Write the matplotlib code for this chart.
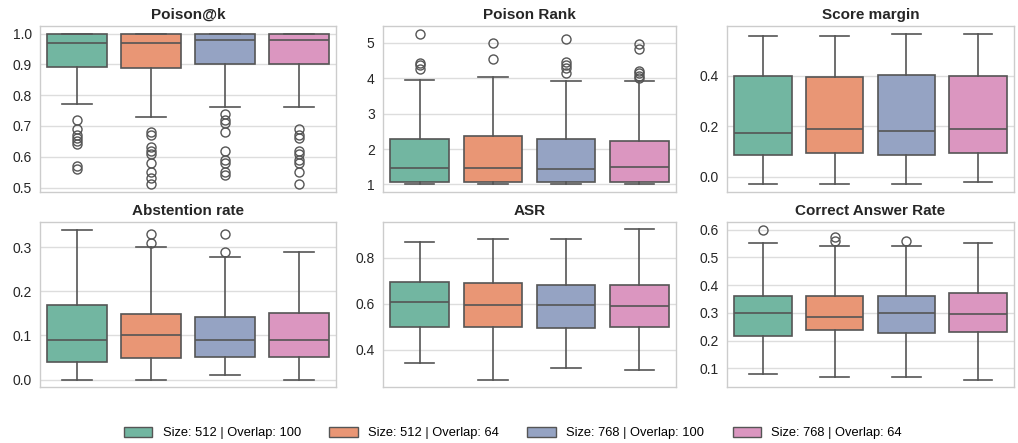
import colorsys
import matplotlib
matplotlib.use("Agg")
import matplotlib.pyplot as plt
import matplotlib.colors as mcolors
from matplotlib.patches import Patch

plt.rcParams['font.family'] = ['Liberation Sans', 'DejaVu Sans']

groups = ["Size: 512 | Overlap: 100", "Size: 512 | Overlap: 64",
          "Size: 768 | Overlap: 100", "Size: 768 | Overlap: 64"]
base_colors = ["#66c2a5", "#fc8d62", "#8da0cb", "#e78ac3"]

titles = ["Poison@k", "Poison Rank", "Score margin",
          "Abstention rate", "ASR", "Correct Answer Rate"]

# per metric: lists over the 4 groups
poisonk_whislo = [0.77, 0.73, 0.76, 0.76]
poisonk_q1 = [0.89, 0.888, 0.90, 0.90]
poisonk_med = [0.97, 0.97, 0.98, 0.98]
poisonk_q3 = [1.0, 1.0, 1.0, 1.0]
poisonk_whishi = [1.0, 1.0, 1.0, 1.0]
poisonk_fliers = [[0.72, 0.69, 0.67, 0.66, 0.65, 0.64, 0.57, 0.56],
                  [0.68, 0.67, 0.63, 0.62, 0.61, 0.58, 0.55, 0.53, 0.51],
                  [0.74, 0.72, 0.71, 0.68, 0.62, 0.59, 0.58, 0.55, 0.54],
                  [0.69, 0.67, 0.66, 0.62, 0.61, 0.59, 0.58, 0.55, 0.51]]
poisonk_ticks = [0.5, 0.6, 0.7, 0.8, 0.9, 1.0]

rank_whislo = [1.0, 1.0, 1.0, 1.0]
rank_q1 = [1.08, 1.08, 1.08, 1.08]
rank_med = [1.46, 1.46, 1.43, 1.48]
rank_q3 = [2.27, 2.36, 2.27, 2.23]
rank_whishi = [3.96, 4.02, 3.92, 3.92]
rank_fliers = [[5.26, 4.43, 4.37, 4.25],
               [4.98, 4.55],
               [5.12, 4.45, 4.36, 4.28, 4.15],
               [4.97, 4.82, 4.20, 4.15, 4.07, 4.0]]
rank_ticks = [1, 2, 3, 4, 5]

margin_whislo = [-0.031, -0.028, -0.028, -0.021]
margin_q1 = [0.087, 0.094, 0.085, 0.094]
margin_med = [0.174, 0.187, 0.181, 0.19]
margin_q3 = [0.40, 0.396, 0.404, 0.40]
margin_whishi = [0.558, 0.558, 0.567, 0.567]
margin_fliers = [[], [], [], []]
margin_ticks = [0.0, 0.2, 0.4]

abst_whislo = [0.0, 0.0, 0.01, 0.0]
abst_q1 = [0.04, 0.048, 0.05, 0.05]
abst_med = [0.089, 0.10, 0.089, 0.09]
abst_q3 = [0.169, 0.148, 0.141, 0.15]
abst_whishi = [0.34, 0.30, 0.278, 0.289]
abst_fliers = [[], [0.33, 0.31], [0.33, 0.288], []]
abst_ticks = [0.0, 0.1, 0.2, 0.3]

asr_whislo = [0.34, 0.27, 0.32, 0.31]
asr_q1 = [0.50, 0.50, 0.493, 0.50]
asr_med = [0.607, 0.596, 0.596, 0.591]
asr_q3 = [0.695, 0.69, 0.682, 0.682]
asr_whishi = [0.87, 0.883, 0.883, 0.924]
asr_fliers = [[], [], [], []]
asr_ticks = [0.4, 0.6, 0.8]

car_whislo = [0.08, 0.07, 0.07, 0.06]
car_q1 = [0.218, 0.24, 0.227, 0.23]
car_med = [0.30, 0.285, 0.30, 0.295]
car_q3 = [0.36, 0.36, 0.36, 0.37]
car_whishi = [0.55, 0.54, 0.54, 0.55]
car_fliers = [[0.60], [0.572, 0.56], [0.56], []]
car_ticks = [0.1, 0.2, 0.3, 0.4, 0.5, 0.6]

metrics = [
    (poisonk_whislo, poisonk_q1, poisonk_med, poisonk_q3, poisonk_whishi, poisonk_fliers, poisonk_ticks),
    (rank_whislo, rank_q1, rank_med, rank_q3, rank_whishi, rank_fliers, rank_ticks),
    (margin_whislo, margin_q1, margin_med, margin_q3, margin_whishi, margin_fliers, margin_ticks),
    (abst_whislo, abst_q1, abst_med, abst_q3, abst_whishi, abst_fliers, abst_ticks),
    (asr_whislo, asr_q1, asr_med, asr_q3, asr_whishi, asr_fliers, asr_ticks),
    (car_whislo, car_q1, car_med, car_q3, car_whishi, car_fliers, car_ticks),
]


def desat(c, prop=0.75):
    r, g, b = mcolors.to_rgb(c)
    h, l, s = colorsys.rgb_to_hls(r, g, b)
    return colorsys.hls_to_rgb(h, l, s * prop)


colors = [desat(c) for c in base_colors]
line_col = "#555555"
grid_col = "#dddddd"
spine_col = "#cccccc"

fig = plt.figure(figsize=(10.18, 4.43), dpi=100)
W, H = 1018, 443
col_x = [(40, 336), (383, 676), (727, 1014)]
row_y = [(26, 192), (222, 387)]

for i, (title, m) in enumerate(zip(titles, metrics)):
    r, c = divmod(i, 3)
    x0, x1 = col_x[c]
    y0, y1 = row_y[r]
    ax = fig.add_axes([x0 / W, 1 - y1 / H, (x1 - x0) / W, (y1 - y0) / H])
    whislo, q1, med, q3, whishi, fliers, ticks = m
    stats = []
    for k in range(4):
        stats.append(dict(whislo=whislo[k], q1=q1[k], med=med[k], q3=q3[k],
                          whishi=whishi[k], fliers=fliers[k], label=""))
    bp = ax.bxp(stats, positions=range(4), widths=0.8, capwidths=0.4,
                patch_artist=True, showfliers=True,
                boxprops=dict(edgecolor=line_col, linewidth=1.2),
                medianprops=dict(color=line_col, linewidth=1.2),
                whiskerprops=dict(color=line_col, linewidth=1.2),
                capprops=dict(color=line_col, linewidth=1.2),
                flierprops=dict(marker='o', markerfacecolor='none',
                                markeredgecolor=line_col, markersize=6.5,
                                markeredgewidth=1.0, linestyle='none'))
    for patch, col in zip(bp['boxes'], colors):
        patch.set_facecolor(col)
    ax.set_xlim(-0.5, 3.5)
    ax.set_xticks([])
    ax.set_yticks(ticks)
    ax.set_title(title, fontsize=11, fontweight='bold', color='#262626', pad=5)
    ax.yaxis.grid(True, color=grid_col, linewidth=1.0)
    ax.set_axisbelow(True)
    ax.tick_params(axis='y', labelsize=10, colors='#262626', length=0, pad=6)
    for s in ax.spines.values():
        s.set_color(spine_col)
        s.set_linewidth(1.0)

handles = [Patch(facecolor=col, edgecolor=line_col, linewidth=1.0, label=g)
           for col, g in zip(colors, groups)]
fig.legend(handles=handles, loc='center', bbox_to_anchor=(513 / W, 1 - 433 / H),
           ncol=4, frameon=False, columnspacing=2.2, fontsize=9.3,
           handlelength=2.2, handleheight=0.8, handletextpad=0.8)

fig.savefig("out.png", dpi=100)
